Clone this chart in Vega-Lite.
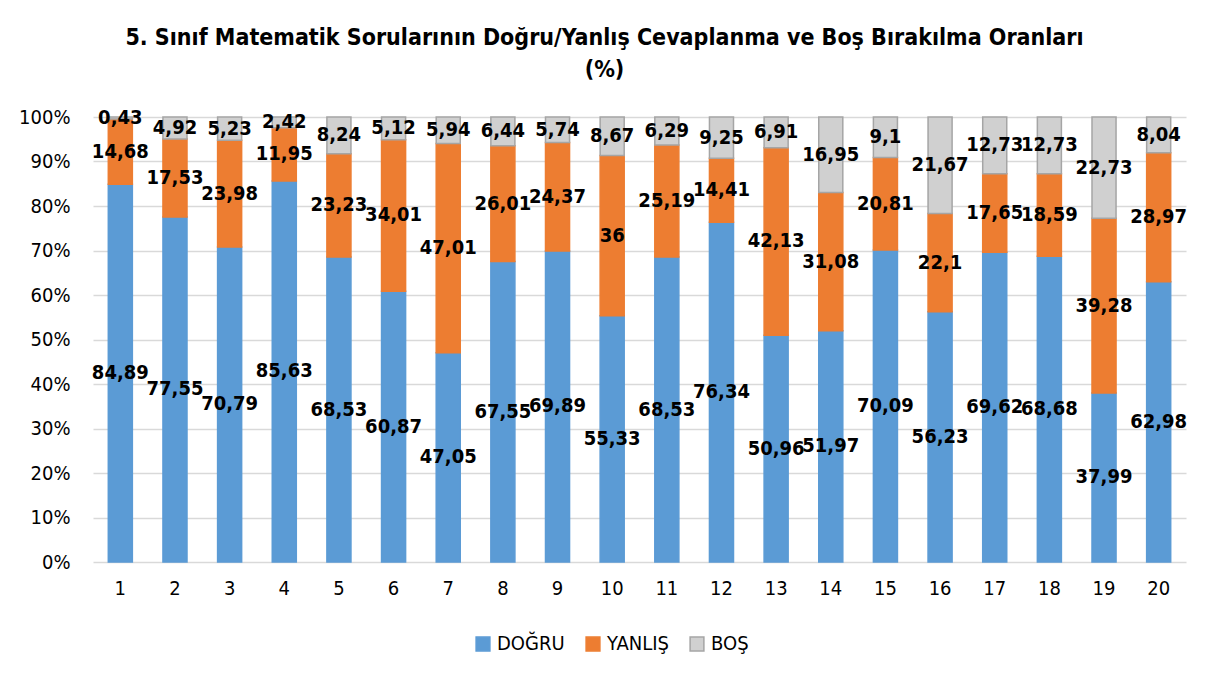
{
  "$schema": "https://vega.github.io/schema/vega-lite/v6.json",
  "autosize": {"type": "none"},
  "width": 1093,
  "height": 445,
  "padding": {"left": 93, "top": 117, "right": 23, "bottom": 120},
  "background": "white",
  "title": {
    "text": ["5. Sınıf Matematik Sorularının Doğru/Yanlış Cevaplanma ve Boş Bırakılma Oranları", "(%)"],
    "font": "DejaVu Sans Condensed, sans-serif",
    "fontSize": 23,
    "fontWeight": "bold",
    "color": "#000000",
    "lineHeight": 32,
    "anchor": "middle",
    "frame": "group",
    "dx": -35,
    "offset": 25
  },
  "data": {
    "values": [
      {"soru": 1, "tur": "DOĞRU", "oran": 84.89}, {"soru": 1, "tur": "YANLIŞ", "oran": 14.68}, {"soru": 1, "tur": "BOŞ", "oran": 0.43},
      {"soru": 2, "tur": "DOĞRU", "oran": 77.55}, {"soru": 2, "tur": "YANLIŞ", "oran": 17.53}, {"soru": 2, "tur": "BOŞ", "oran": 4.92},
      {"soru": 3, "tur": "DOĞRU", "oran": 70.79}, {"soru": 3, "tur": "YANLIŞ", "oran": 23.98}, {"soru": 3, "tur": "BOŞ", "oran": 5.23},
      {"soru": 4, "tur": "DOĞRU", "oran": 85.63}, {"soru": 4, "tur": "YANLIŞ", "oran": 11.95}, {"soru": 4, "tur": "BOŞ", "oran": 2.42},
      {"soru": 5, "tur": "DOĞRU", "oran": 68.53}, {"soru": 5, "tur": "YANLIŞ", "oran": 23.23}, {"soru": 5, "tur": "BOŞ", "oran": 8.24},
      {"soru": 6, "tur": "DOĞRU", "oran": 60.87}, {"soru": 6, "tur": "YANLIŞ", "oran": 34.01}, {"soru": 6, "tur": "BOŞ", "oran": 5.12},
      {"soru": 7, "tur": "DOĞRU", "oran": 47.05}, {"soru": 7, "tur": "YANLIŞ", "oran": 47.01}, {"soru": 7, "tur": "BOŞ", "oran": 5.94},
      {"soru": 8, "tur": "DOĞRU", "oran": 67.55}, {"soru": 8, "tur": "YANLIŞ", "oran": 26.01}, {"soru": 8, "tur": "BOŞ", "oran": 6.44},
      {"soru": 9, "tur": "DOĞRU", "oran": 69.89}, {"soru": 9, "tur": "YANLIŞ", "oran": 24.37}, {"soru": 9, "tur": "BOŞ", "oran": 5.74},
      {"soru": 10, "tur": "DOĞRU", "oran": 55.33}, {"soru": 10, "tur": "YANLIŞ", "oran": 36}, {"soru": 10, "tur": "BOŞ", "oran": 8.67},
      {"soru": 11, "tur": "DOĞRU", "oran": 68.53}, {"soru": 11, "tur": "YANLIŞ", "oran": 25.19}, {"soru": 11, "tur": "BOŞ", "oran": 6.29},
      {"soru": 12, "tur": "DOĞRU", "oran": 76.34}, {"soru": 12, "tur": "YANLIŞ", "oran": 14.41}, {"soru": 12, "tur": "BOŞ", "oran": 9.25},
      {"soru": 13, "tur": "DOĞRU", "oran": 50.96}, {"soru": 13, "tur": "YANLIŞ", "oran": 42.13}, {"soru": 13, "tur": "BOŞ", "oran": 6.91},
      {"soru": 14, "tur": "DOĞRU", "oran": 51.97}, {"soru": 14, "tur": "YANLIŞ", "oran": 31.08}, {"soru": 14, "tur": "BOŞ", "oran": 16.95},
      {"soru": 15, "tur": "DOĞRU", "oran": 70.09}, {"soru": 15, "tur": "YANLIŞ", "oran": 20.81}, {"soru": 15, "tur": "BOŞ", "oran": 9.1},
      {"soru": 16, "tur": "DOĞRU", "oran": 56.23}, {"soru": 16, "tur": "YANLIŞ", "oran": 22.1}, {"soru": 16, "tur": "BOŞ", "oran": 21.67},
      {"soru": 17, "tur": "DOĞRU", "oran": 69.62}, {"soru": 17, "tur": "YANLIŞ", "oran": 17.65}, {"soru": 17, "tur": "BOŞ", "oran": 12.73},
      {"soru": 18, "tur": "DOĞRU", "oran": 68.68}, {"soru": 18, "tur": "YANLIŞ", "oran": 18.59}, {"soru": 18, "tur": "BOŞ", "oran": 12.73},
      {"soru": 19, "tur": "DOĞRU", "oran": 37.99}, {"soru": 19, "tur": "YANLIŞ", "oran": 39.28}, {"soru": 19, "tur": "BOŞ", "oran": 22.73},
      {"soru": 20, "tur": "DOĞRU", "oran": 62.98}, {"soru": 20, "tur": "YANLIŞ", "oran": 28.97}, {"soru": 20, "tur": "BOŞ", "oran": 8.04}
    ]
  },
  "transform": [
    {"calculate": "indexof(['DOĞRU','YANLIŞ','BOŞ'], datum.tur)", "as": "sira"},
    {"stack": "oran", "groupby": ["soru"], "sort": [{"field": "sira", "order": "ascending"}], "as": ["y0", "y1"], "offset": "zero"},
    {"calculate": "(datum.y0 + datum.y1) / 2", "as": "orta"},
    {"calculate": "replace(toString(datum.oran), '.', ',')", "as": "etiket"}
  ],
  "encoding": {
    "x": {
      "field": "soru",
      "type": "ordinal",
      "title": null,
      "scale": {"paddingInner": 0.56, "paddingOuter": 0.28},
      "axis": {
        "labelAngle": 0,
        "labelFont": "DejaVu Sans Condensed, sans-serif",
        "labelFontSize": 20,
        "labelColor": "#000000",
        "labelPadding": 16,
        "ticks": false,
        "domain": false,
        "grid": false
      }
    }
  },
  "layer": [
    {
      "mark": {"type": "bar", "strokeWidth": 1.5},
      "encoding": {
        "y": {
          "field": "y0",
          "type": "quantitative",
          "title": null,
          "scale": {"domain": [0, 100], "nice": false},
          "axis": {
            "values": [0, 10, 20, 30, 40, 50, 60, 70, 80, 90, 100],
            "labelExpr": "datum.value + '%'",
            "labelFont": "DejaVu Sans Condensed, sans-serif",
            "labelFontSize": 20,
            "labelColor": "#000000",
            "labelPadding": 23,
            "ticks": false,
            "domain": false,
            "grid": true,
            "gridColor": "#D9D9D9",
            "gridWidth": 1.5
          }
        },
        "y2": {"field": "y1"},
        "color": {
          "field": "tur",
          "type": "nominal",
          "scale": {"domain": ["DOĞRU", "YANLIŞ", "BOŞ"], "range": ["#5B9BD5", "#ED7D31", "#D0D0D0"]},
          "legend": {
            "title": null,
            "orient": "none",
            "direction": "horizontal",
            "legendX": 380,
            "legendY": 517,
            "symbolType": "square",
            "symbolSize": 190,
            "symbolStrokeWidth": 1.5,
            "labelFont": "DejaVu Sans Condensed, sans-serif",
            "labelFontSize": 20,
            "labelColor": "#000000",
            "labelOffset": 4,
            "columnPadding": 18
          }
        },
        "stroke": {
          "field": "tur",
          "type": "nominal",
          "scale": {"domain": ["DOĞRU", "YANLIŞ", "BOŞ"], "range": ["#5B9BD5", "#ED7D31", "#A5A5A5"]},
          "legend": null
        },
        "order": {"field": "sira"}
      }
    },
    {
      "mark": {
        "type": "text",
        "font": "DejaVu Sans Condensed, sans-serif",
        "fontSize": 20,
        "fontWeight": "bold",
        "color": "#000000",
        "baseline": "middle",
        "align": "center"
      },
      "encoding": {
        "y": {"field": "orta", "type": "quantitative"},
        "text": {"field": "etiket"}
      }
    }
  ],
  "config": {"view": {"stroke": null}}
}
